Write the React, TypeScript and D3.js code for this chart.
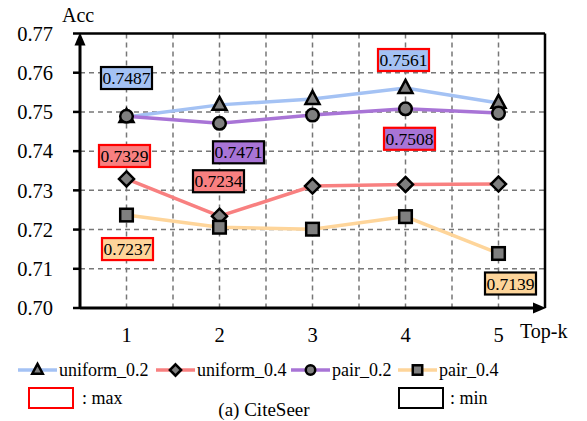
import React from 'react';
import * as d3 from 'd3';

// data
const topK = [1, 2, 3, 4, 5];
const uniform02 = [0.7487, 0.7518, 0.7533, 0.7561, 0.7523];
const uniform04 = [0.7329, 0.7234, 0.7311, 0.7315, 0.7316];
const pair02 = [0.7489, 0.7471, 0.7492, 0.7508, 0.7497];
const pair04 = [0.7237, 0.7206, 0.7201, 0.7233, 0.7139];
const yTicks = [0.70, 0.71, 0.72, 0.73, 0.74, 0.75, 0.76, 0.77];
const seriesNames = ['uniform_0.2', 'uniform_0.4', 'pair_0.2', 'pair_0.4'];
const seriesValues = [uniform02, uniform04, pair02, pair04];
// which points carry a value label
const labelSeries = [0, 1, 2, 1, 3, 0, 2, 3];
const labelK = [1, 1, 2, 2, 1, 4, 4, 5];
const labelKind = ['min', 'max', 'min', 'min', 'max', 'max', 'max', 'min'];

// layout only
const labelDx = [0, -2, 19, -1, 1, -2, 4, 12];
const labelDy = [-39, -23, 29, -35, 34, -28, 30, 30];
const colors = ['#a4c2f4', '#f88080', '#a874d6', '#fed59a'];
const markers = ['triangle', 'diamond', 'circle', 'square'];
const FONT = 'Liberation Serif';

const W = 587, H = 421;
const left = 80, right = 545, top = 33.5, bottom = 308;

function Marker({ type, x, y, s = 1 }: { type: string; x: number; y: number; s?: number }) {
  const st = { fill: '#7f7f7f', stroke: '#000', strokeWidth: 2.5 };
  if (type === 'circle') return <circle cx={x} cy={y} r={6.3 * s} {...st} />;
  if (type === 'square') return <rect x={x - 6.3 * s} y={y - 6.3 * s} width={12.6 * s} height={12.6 * s} {...st} />;
  if (type === 'diamond') {
    const d = 7.5 * s;
    return <path d={`M${x},${y - d}L${x + d},${y}L${x},${y + d}L${x - d},${y}Z`} {...st} />;
  }
  const h = 13 * s, w = 14 * s;
  return <path d={`M${x},${y - h * 0.62}L${x + w / 2},${y + h * 0.38}L${x - w / 2},${y + h * 0.38}Z`} {...st} />;
}

function T(props: any) {
  return <text fontFamily={FONT} fill="#000" {...props} />;
}

export default function App() {
  const x = d3.scaleLinear().domain([0.5, 5.5]).range([left, right]);
  const y = d3.scaleLinear().domain([0.70, 0.77]).range([bottom, top]);
  const line = d3.line<number>().x((_, i) => x(topK[i])).y(d => y(d));
  const vGrid = d3.range(1, 5.5, 0.5);

  const legendX = [18, 156, 291, 398];

  return (
    <svg width={W} height={H} style={{ position: 'absolute', left: 0, top: 0, background: '#fff' }}>
      {/* grid */}
      {vGrid.map(v => (
        <line key={'v' + v} x1={x(v)} x2={x(v)} y1={top} y2={bottom} stroke="#777" strokeWidth={1.5} strokeDasharray="5,4" />
      ))}
      {yTicks.slice(1, -1).map(t => (
        <line key={'h' + t} x1={left} x2={right} y1={y(t)} y2={y(t)} stroke="#777" strokeWidth={1.5} strokeDasharray="5,4" />
      ))}
      {/* frame */}
      <line x1={left} x2={right} y1={top} y2={top} stroke="#000" strokeWidth={2.5} />
      <line x1={right} x2={right} y1={top} y2={bottom} stroke="#000" strokeWidth={2.5} />
      <line x1={left} x2={right - 8} y1={bottom} y2={bottom} stroke="#000" strokeWidth={3} />
      <line x1={left} x2={left} y1={bottom} y2={top + 8} stroke="#000" strokeWidth={3} />
      <path d={`M${left},${top - 1}L${left + 5.5},${top + 12}L${left - 5.5},${top + 12}Z`} fill="#000" />
      <path d={`M${right + 1},${bottom}L${right - 12},${bottom - 5.5}L${right - 12},${bottom + 5.5}Z`} fill="#000" />
      {/* y ticks */}
      {yTicks.map(t => (
        <g key={'yt' + t}>
          <line x1={left - 7} x2={left} y1={y(t)} y2={y(t)} stroke="#000" strokeWidth={2.5} />
          <T x={53} y={y(t)} dy="0.35em" textAnchor="end" fontSize={20.5}>{d3.format('.2f')(t)}</T>
        </g>
      ))}
      {topK.map(k => (
        <T key={'xt' + k} x={x(k)} y={342} textAnchor="middle" fontSize={20.5}>{k}</T>
      ))}
      <T x={62} y={22} fontSize={20}>Acc</T>
      <T x={520} y={338} fontSize={20}>Top-k</T>

      {/* series */}
      {seriesValues.map((vals, si) => (
        <g key={'s' + si}>
          <path d={line(vals) || ''} fill="none" stroke={colors[si]} strokeWidth={3.5} />
          {vals.map((v, i) => <Marker key={i} type={markers[si]} x={x(topK[i])} y={y(v)} />)}
        </g>
      ))}

      {/* value labels */}
      {labelSeries.map((si, j) => {
        const v = seriesValues[si][labelK[j] - 1];
        const cx = x(labelK[j]) + labelDx[j];
        const cy = y(v) + labelDy[j];
        return (
          <g key={'lab' + j}>
            <rect x={cx - 25.5} y={cy - 11} width={51} height={22} fill={colors[si]}
              stroke={labelKind[j] === 'max' ? '#ff0000' : '#000'} strokeWidth={2.2} />
            <T x={cx} y={cy} dy="0.35em" textAnchor="middle" fontSize={17.5}>{v.toFixed(4)}</T>
          </g>
        );
      })}

      {/* legend */}
      {seriesNames.map((name, si) => (
        <g key={'lg' + si}>
          <line x1={legendX[si]} x2={legendX[si] + 39} y1={370} y2={370} stroke={colors[si]} strokeWidth={3.5} />
          <Marker type={markers[si]} x={legendX[si] + 19.5} y={370} s={0.75} />
          <T x={legendX[si] + 41} y={370} dy="0.35em" fontSize={18}>{name}</T>
        </g>
      ))}
      <rect x={29} y={388} width={44} height={20} fill="none" stroke="#ff0000" strokeWidth={2} />
      <T x={82} y={404} fontSize={18}>: max</T>
      <rect x={399} y={388} width={44} height={20} fill="none" stroke="#000" strokeWidth={2} />
      <T x={450} y={404} fontSize={18}>: min</T>
      <T x={264} y={416} textAnchor="middle" fontSize={19}>(a) CiteSeer</T>
    </svg>
  );
}
